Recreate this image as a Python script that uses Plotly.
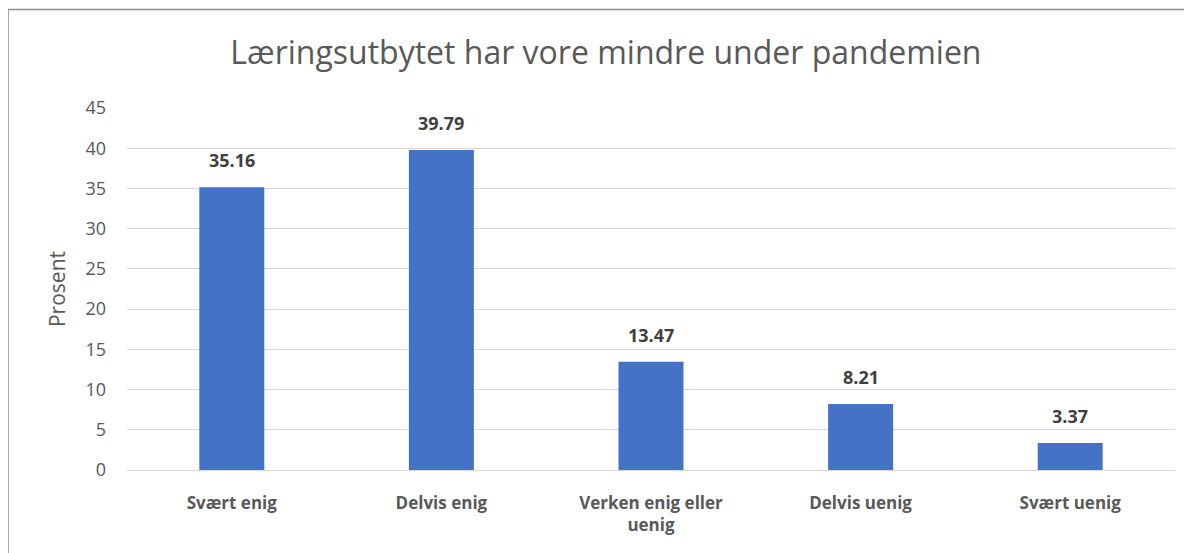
import plotly.graph_objects as go

categories = ["Svært enig", "Delvis enig", "Verken enig eller<br>uenig", "Delvis uenig", "Svært uenig"]
values = [35.16, 39.79, 13.47, 8.21, 3.37]
y_ticks = [0, 5, 10, 15, 20, 25, 30, 35, 40, 45]

# page body has an 8px margin, so the figure is sized to fit inside the window
W, H = 1184, 545
ml, mr, mt, mb = 119, 17, 100, 83
pw, ph = W - ml - mr, H - mt - mb

fig = go.Figure()
fig.add_trace(go.Bar(
    x=categories, y=values,
    marker=dict(color="#4472C4", line=dict(width=0)),
    hoverinfo="x+y",
))

for c, v in zip(categories, values):
    fig.add_annotation(x=c, y=v, text=f"{v:.2f}", showarrow=False,
                       yanchor="bottom", yshift=13,
                       font=dict(family="Open Sans", size=18, color="#404040", weight="bold"))


def px_x(p):
    return (p - ml) / pw


def px_y(p):
    return (H - mb - p) / ph


# chart border
fig.add_shape(type="rect", xref="paper", yref="paper",
              x0=px_x(0), x1=px_x(1200), y0=px_y(560), y1=px_y(1.5),
              line=dict(color="#8c8c8c", width=1.5), fillcolor="rgba(0,0,0,0)", layer="above")

fig.update_layout(
    width=W, height=H,
    margin=dict(l=ml, r=mr, t=mt, b=mb),
    paper_bgcolor="white", plot_bgcolor="white",
    bargap=0.69,
    showlegend=False,
    title=dict(text="Læringsutbytet har vore mindre under pandemien",
               x=0.505, xanchor="center", y=1 - 45 / H, yanchor="middle",
               font=dict(family="Open Sans", size=32, color="#595959")),
    font=dict(family="Open Sans", color="#595959"),
    xaxis=dict(showgrid=False, showline=False, ticks="", ticklabelstandoff=21,
               tickfont=dict(size=17, color="#595959", weight="bold")),
    yaxis=dict(range=[0, 45], tickvals=y_ticks, showgrid=True, gridcolor="#d9d9d9",
               gridwidth=1, zeroline=True, zerolinecolor="#d9d9d9", zerolinewidth=1,
               showline=False, ticks="", ticklabelstandoff=20,
               tickfont=dict(size=18, color="#595959"),
               title=dict(text="Prosent", font=dict(size=21, color="#595959"), standoff=14)),
)

fig.write_html("out.html")
